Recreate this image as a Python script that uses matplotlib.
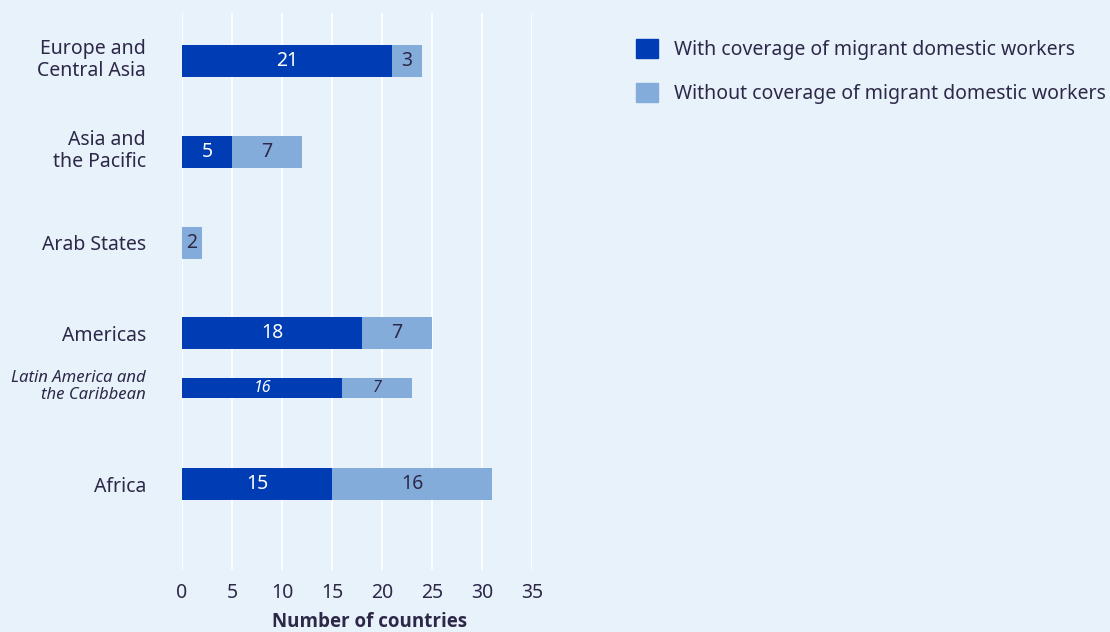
import matplotlib
matplotlib.use('Agg')
import matplotlib.pyplot as plt
import matplotlib.transforms as mtransforms
from matplotlib.patches import Patch

regions = ['Europe and\nCentral Asia', 'Asia and\nthe Pacific', 'Arab States',
           'Americas', 'Latin America and\nthe Caribbean', 'Africa']
with_cov = [21, 5, 0, 18, 16, 15]
without_cov = [3, 7, 2, 7, 7, 16]
sub_region = [False, False, False, False, True, False]

legend_labels = ['With coverage of migrant domestic workers',
                 'Without coverage of migrant domestic workers']
x_ticks = [0, 5, 10, 15, 20, 25, 30, 35]

dark = '#003cb4'
light = '#84acdb'
bg = '#e8f2fb'
txt = '#2d2848'

plt.rcParams['font.family'] = ['Noto Sans', 'DejaVu Sans']

fig = plt.figure(figsize=(11.1, 6.32), dpi=100, facecolor=bg)
ax = fig.add_axes([182 / 1110, 1 - 570 / 632, 350 / 1110, 557 / 632])
ax.set_facecolor(bg)

ypos = [0, 1, 2, 3, 3.6, 4.66]
heights = [0.22 if s else 0.352 for s in sub_region]

ax.barh(ypos, with_cov, height=heights, color=dark, zorder=3)
ax.barh(ypos, without_cov, left=with_cov, height=heights, color=light, zorder=3)

for y, w, wo, s in zip(ypos, with_cov, without_cov, sub_region):
    fs = 11.5 if s else 14
    style = 'italic' if s else 'normal'
    if w > 0:
        ax.text(w / 2, y, str(w), ha='center', va='center', color='white',
                fontsize=fs, style=style, zorder=4)
    if wo > 0:
        ax.text(w + wo / 2, y, str(wo), ha='center', va='center', color=txt,
                fontsize=fs, style=style, zorder=4)

ax.set_xlim(0, 35)
ax.set_ylim(5.606, -0.529)
ax.set_xticks(x_ticks)
ax.set_xticklabels([str(t) for t in x_ticks])
ax.grid(axis='x', color='white', linewidth=1.3, zorder=0)
ax.set_yticks(ypos)
ax.set_yticklabels(regions)
ax.tick_params(axis='y', length=0, pad=26)
ax.tick_params(axis='x', length=0, pad=9, labelsize=14, labelcolor=txt)
shift_up = mtransforms.ScaledTranslation(0, 3 / 72, fig.dpi_scale_trans)
for lab, s, name in zip(ax.get_yticklabels(), sub_region, regions):
    if s:
        lab.set_fontsize(12)
        lab.set_style('italic')
    else:
        lab.set_fontsize(14)
    lab.set_color(txt)
    lab.set_linespacing(1.13)
    if '\n' in name:
        lab.set_transform(lab.get_transform() + shift_up)
for sp in ax.spines.values():
    sp.set_visible(False)

ax.set_xlabel('Number of countries', fontsize=13.5, fontweight='bold', color=txt,
              family=['Open Sans', 'DejaVu Sans'], labelpad=7)
ax.xaxis.label.set_x(0.537)

handles = [Patch(color=dark), Patch(color=light)]
fig.legend(handles, legend_labels, loc='upper left', bbox_to_anchor=(628 / 1110, 1 - 31 / 632),
           frameon=False, fontsize=14, labelcolor=txt, handlelength=1.13,
           handleheight=1.13, handletextpad=0.82, labelspacing=1.2, borderaxespad=0)

fig.savefig('out.png', dpi=100, facecolor=bg)
